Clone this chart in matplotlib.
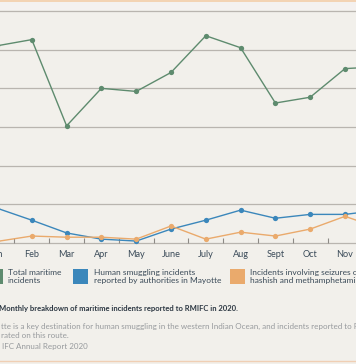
#!/usr/bin/env python3
"""
Monthly maritime incidents reported to RMIFC in 2020 (cropped view)
"""
import matplotlib

matplotlib.use("Agg")
import matplotlib.pyplot as plt
from matplotlib.patches import Rectangle
from matplotlib.lines import Line2D

# Data (grid step = 10)
months = ["Jan", "Feb", "Mar", "Apr", "May", "June",
          "July", "Aug", "Sept", "Oct", "Nov", "Dec"]
total_incidents = [51.0, 52.6, 30.3, 40.0, 39.2, 44.1,
                   53.6, 50.5, 36.2, 37.7, 45.1, 45.6]
smuggling_mayotte = [9.0, 5.9, 2.6, 1.0, 0.5, 3.6,
                     5.9, 8.5, 6.4, 7.4, 7.4, 8.5]
drug_seizures = [0.4, 1.8, 1.5, 1.5, 1.0, 4.4,
                 1.0, 2.8, 1.8, 3.6, 6.9, 3.8]

legend_labels = ["Total maritime\nincidents",
                 "Human smuggling incidents\nreported by authorities in Mayotte",
                 "Incidents involving seizures of\nhashish and methamphetamine"]

BG = "#f2f0eb"
GRID = "#b9b5af"
TEXT = "#3a4a58"
GREEN = "#5e8b6e"
BLUE = "#3b87bb"
ORANGE = "#eaaa6c"

W, H = 356, 364


def fx(px):
    return px / W


def fy(py):
    return 1 - py / H


fig = plt.figure(figsize=(W / 100, H / 100), dpi=100, facecolor=BG)

# top and bottom decorative bands
fig.patches.append(Rectangle((0, fy(2)), 1, 2 / H, transform=fig.transFigure,
                             color="#f3d3b4", lw=0))
fig.patches.append(Rectangle((0, fy(10)), 1, 8 / H, transform=fig.transFigure,
                             color="#f4f1f0", lw=0))
fig.add_artist(Line2D([0, 1], [fy(361), fy(361)], transform=fig.transFigure,
                      color="#f0cfb4", lw=1))

# axes: Jan sits at x=-3px, month spacing ~34.8px; 0 at y=243px, 60 at y=11px
# the axes run past the canvas so Jan and Dec are only partly visible
step = 34.8
n = len(months) - 1
ax = fig.add_axes([fx(-3), fy(243), n * step / W, (243 - 11) / H])
ax.set_facecolor(BG)

x = list(range(len(months)))
for values, color in [(total_incidents, GREEN), (smuggling_mayotte, BLUE),
                      (drug_seizures, ORANGE)]:
    ax.plot(x, values, color=color, lw=1.0, marker="o", markersize=3.8,
            markeredgewidth=0, clip_on=False, zorder=3)

for level in range(0, 70, 10):
    ax.axhline(level, color=GRID, lw=0.9, zorder=1, clip_on=False)

for spine in ax.spines.values():
    spine.set_visible(False)

ax.set_yticks([])
ax.set_xticks([i + 0.5 for i in range(n)])
ax.set_xticklabels([])
ax.tick_params(axis="x", which="major", direction="in", length=3.8,
               width=0.8, color="#8d8a86")
ax.set_xticks(x, minor=True)
ax.set_xticklabels(months, minor=True, fontsize=6.6, color=TEXT,
                   family="Lato")
ax.tick_params(axis="x", which="minor", length=0, pad=5)

ax.set_xlim(0, n)
ax.set_ylim(0, 60)

# legend built by hand to match the cropped layout
legend_items = [(-12, GREEN, 8), (73, BLUE, 94), (230, ORANGE, 250)]
for (sq_x, color, tx), label in zip(legend_items, legend_labels):
    fig.patches.append(Rectangle((fx(sq_x), fy(284)), 15 / W, 15 / H,
                                 transform=fig.transFigure, color=color, lw=0))
    fig.text(fx(tx), fy(276.5), label, ha="left", va="center", fontsize=6.0,
             color=TEXT, family="Lato", linespacing=1.05)

# caption
fig.text(fx(-1), fy(308), "Monthly breakdown of maritime incidents reported to RMIFC in 2020.",
         ha="left", va="center", fontsize=5.5, color="#2c3742", family="Lato",
         weight="bold")
grey_lines = [
    (326, 1, "tte is a key destination for human smuggling in the western Indian Ocean, and incidents reported to R"),
    (336, 1, "rated on this route."),
    (347, 2, "IFC Annual Report 2020"),
]
for py, px, line in grey_lines:
    fig.text(fx(px), fy(py), line, ha="left", va="center", fontsize=5.75,
             color="#979a9d", family="Lato")

fig.savefig("out.png", dpi=100, facecolor=BG)
